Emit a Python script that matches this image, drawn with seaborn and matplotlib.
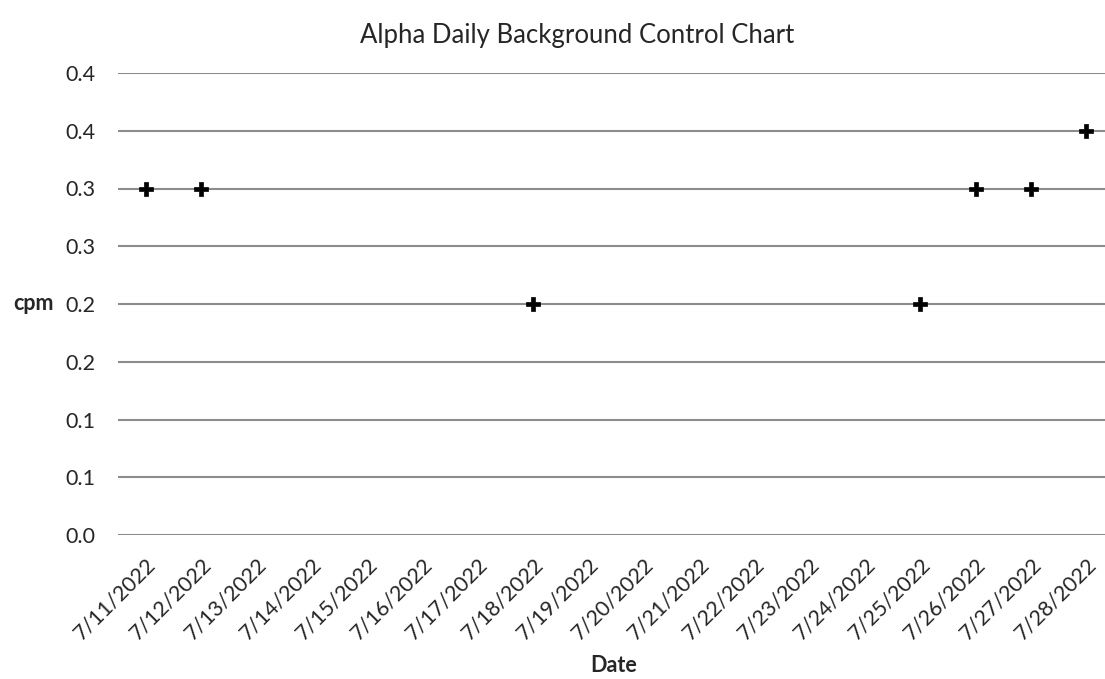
import matplotlib
matplotlib.use("Agg")
import matplotlib.pyplot as plt
import seaborn as sns
import pandas as pd
import numpy as np

# all dates on the category axis
dates = ["7/11/2022", "7/12/2022", "7/13/2022", "7/14/2022", "7/15/2022", "7/16/2022",
         "7/17/2022", "7/18/2022", "7/19/2022", "7/20/2022", "7/21/2022", "7/22/2022",
         "7/23/2022", "7/24/2022", "7/25/2022", "7/26/2022", "7/27/2022", "7/28/2022"]

# measured background (cpm), only on days that were counted
measured_dates = ["7/11/2022", "7/12/2022", "7/18/2022", "7/25/2022", "7/26/2022", "7/27/2022", "7/28/2022"]
cpm = [0.3, 0.3, 0.2, 0.2, 0.3, 0.3, 0.35]

y_ticks = [0.0, 0.05, 0.1, 0.15, 0.2, 0.25, 0.3, 0.35, 0.4]
y_tick_labels = ["0.0", "0.1", "0.1", "0.2", "0.2", "0.3", "0.3", "0.4", "0.4"]

df = pd.DataFrame({"date": pd.Categorical(measured_dates, categories=dates), "cpm": cpm})
df["pos"] = df["date"].cat.codes

sns.set_style("white")
plt.rcParams["font.family"] = ["Lato", "DejaVu Sans"]

fig = plt.figure(figsize=(11.05, 6.79), dpi=100)
ax = fig.add_axes([118 / 1105, 1 - 535 / 679, (1114 - 118) / 1105, (535 - 73) / 679])

for y in y_ticks:
    ax.axhline(y, color="#8c8c8c", lw=1.5, zorder=1)

sns.scatterplot(data=df, x="pos", y="cpm", marker="P", s=110, color="black",
                edgecolor="black", linewidth=0.5, ax=ax, zorder=3, clip_on=False)

ax.set_xlim(-0.5, len(dates) - 0.5)
ax.set_ylim(0, 0.4)
ax.set_xticks(range(len(dates)))
ax.set_xticklabels(dates, rotation=45, ha="right", rotation_mode="anchor", fontsize=15.5)
ax.set_yticks(y_ticks)
ax.set_yticklabels(y_tick_labels, fontsize=15.5)
ax.tick_params(axis="y", length=0, pad=16)
ax.tick_params(axis="x", length=0, pad=14)
for s in ax.spines.values():
    s.set_visible(False)

ax.set_xlabel("")
ax.set_ylabel("")
fig.text(33 / 1105, 1 - 303 / 679, "cpm", fontsize=15.5, fontweight="bold", ha="center", va="center")
fig.text(614 / 1105, 1 - 665 / 679, "Date", fontsize=15.5, fontweight="bold", ha="center", va="center")
fig.text(577 / 1105, 1 - 36 / 679, "Alpha Daily Background Control Chart", fontsize=18.5,
         ha="center", va="center")

fig.savefig("out.png", dpi=100)
